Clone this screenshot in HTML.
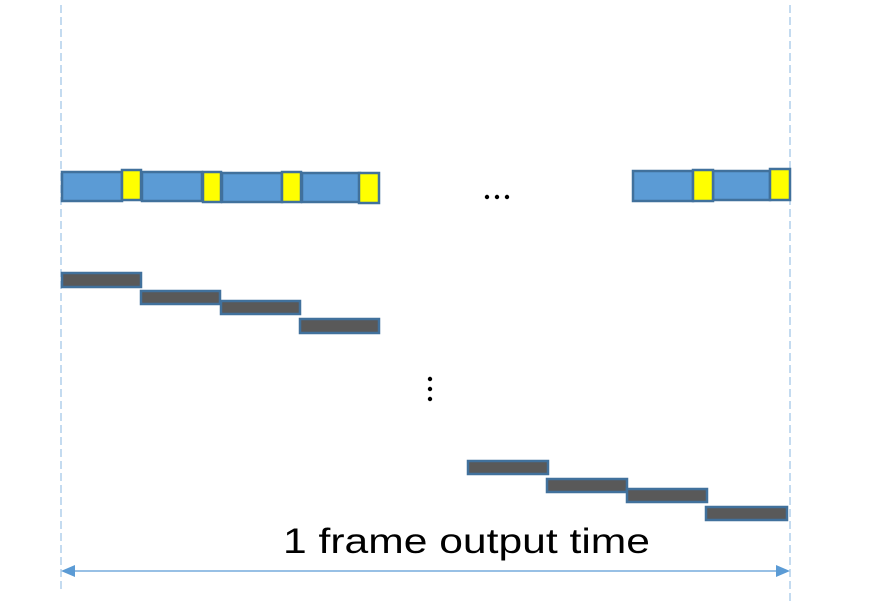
<!DOCTYPE html>
<html><head><style>body{margin:0;background:#fff}svg{display:block}</style></head>
<body>
<svg width="889" height="612" xmlns="http://www.w3.org/2000/svg">
<defs><marker id="a" markerWidth="10" markerHeight="10" refX="0" refY="5" orient="auto" markerUnits="userSpaceOnUse"><path d="M0,0 L0,10 L0,5Z" fill="#5b9bd5"/></marker></defs>
<g stroke="#9dc3e6" stroke-width="1.2" stroke-dasharray="8,4">
<line x1="61" y1="5" x2="61" y2="592"/><line x1="790" y1="5" x2="790" y2="602"/>
</g>
<line x1="72" y1="571" x2="778" y2="571" stroke="#5b9bd5" stroke-width="1.3"/>
<polygon points="61,571 75,565 75,577" fill="#5b9bd5"/>
<polygon points="790,571 776,565 776,577" fill="#5b9bd5"/>
<g stroke="#41719c" stroke-width="2.5" fill="#5b9bd5">
<rect x="62" y="172" width="60" height="29"/><rect x="142" y="172" width="60" height="29"/>
<rect x="222" y="173" width="60" height="29"/><rect x="302" y="173" width="58" height="29"/>
<rect x="633" y="171" width="60" height="30"/><rect x="713" y="171" width="57" height="29"/>
</g>
<g stroke="#41719c" stroke-width="2.5" fill="#ffff00">
<rect x="122" y="170" width="19" height="30"/><rect x="203" y="172" width="18" height="30"/>
<rect x="282" y="172" width="19" height="30"/><rect x="359" y="173" width="20" height="30"/>
<rect x="693" y="170" width="20" height="31"/><rect x="770" y="169" width="20" height="31"/>
</g>
<g stroke="#41719c" stroke-width="2.5" fill="#595959">
<rect x="62" y="273" width="79" height="14"/><rect x="141" y="291" width="79" height="13"/>
<rect x="221" y="301" width="79" height="13"/><rect x="300" y="319" width="79" height="14"/>
<rect x="468" y="461" width="80" height="13"/><rect x="547" y="479" width="80" height="13"/>
<rect x="627" y="489" width="80" height="13"/><rect x="706" y="507" width="81" height="13"/>
</g>
<g fill="#000"><circle cx="487" cy="197" r="2.2"/><circle cx="497" cy="197" r="2.2"/><circle cx="507" cy="197" r="2.2"/>
<circle cx="430" cy="379" r="2.2"/><circle cx="430" cy="389" r="2.2"/><circle cx="430" cy="399" r="2.2"/></g>
<text x="283" y="553" font-family="'Liberation Sans',sans-serif" font-size="35" textLength="367" lengthAdjust="spacingAndGlyphs" fill="#000">1 frame output time</text>
</svg>
</body></html>
